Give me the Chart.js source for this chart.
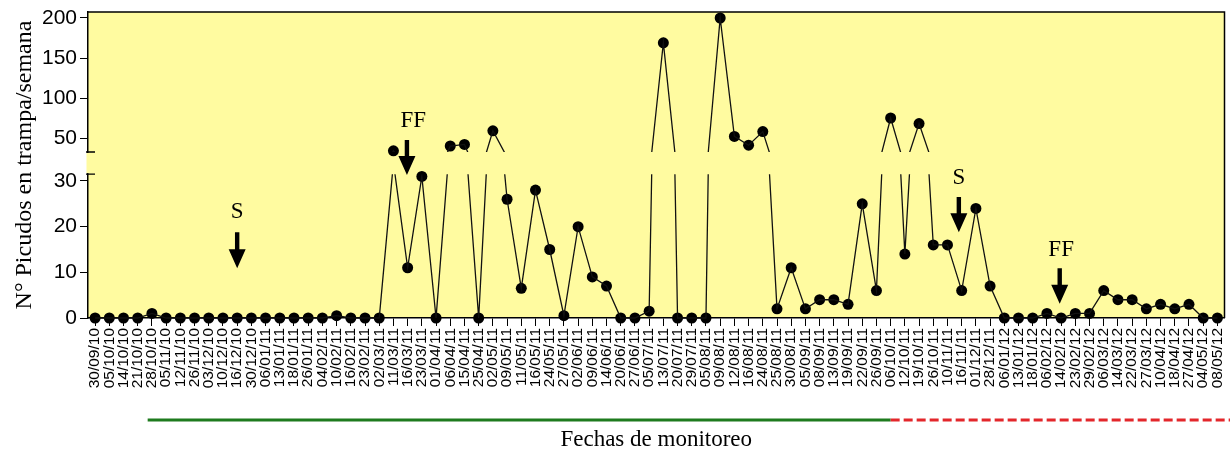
<!DOCTYPE html>
<html>
<head>
<meta charset="utf-8">
<script src="https://cdn.jsdelivr.net/npm/chart.js@4/dist/chart.umd.min.js"></script>
<style>
  html, body { margin: 0; padding: 0; background: #ffffff; }
  #wrap { width: 1230px; height: 455px; position: relative; }
</style>
</head>
<body>
<div id="wrap"><canvas id="c" width="1230" height="455"></canvas></div>
<script>
// ---------------- DATA ----------------
const categories = [
  '30/09/10','05/10/10','14/10/10','21/10/10','28/10/10','05/11/10','12/11/10','26/11/10','03/12/10','10/12/10',
  '16/12/10','30/12/10','06/01/11','13/01/11','18/01/11','26/01/11','04/02/11','10/02/11','16/02/11','23/02/11',
  '02/03/11','11/03/11','16/03/11','23/03/11','01/04/11','06/04/11','15/04/11','25/04/11','02/05/11','09/05/11',
  '11/05/11','16/05/11','24/05/11','27/05/11','02/06/11','09/06/11','14/06/11','20/06/11','27/06/11','05/07/11',
  '13/07/11','20/07/11','29/07/11','05/08/11','09/08/11','12/08/11','16/08/11','24/08/11','25/08/11','30/08/11',
  '05/09/11','08/09/11','13/09/11','19/09/11','22/09/11','26/09/11','06/10/11','12/10/11','19/10/11','26/10/11',
  '10/11/11','16/11/11','01/12/11','28/12/11','06/01/12','13/01/12','18/01/12','06/02/12','14/02/12','23/02/12',
  '29/02/12','06/03/12','14/03/12','22/03/12','27/03/12','10/04/12','18/04/12','27/04/12','04/05/12','08/05/12'
];
const picudos = [
  0, 0, 0, 0, 1, 0, 0, 0, 0, 0,
  0, 0, 0, 0, 0, 0, 0, 0.5, 0, 0,
  0, 34, 11, 31, 0, 40, 42, 0, 59, 26,
  6.5, 28, 15, 0.5, 20, 9, 7, 0, 0, 1.5,
  169, 0, 0, 0, 200, 52, 41, 58, 2, 11,
  2, 4, 4, 3, 25, 6, 75, 14, 68, 16,
  16, 6, 24, 7, 0, 0, 0, 1, 0, 1,
  1, 6, 4, 4, 2, 3, 2, 3, 0, 0
];
const lowerTicks = [0, 10, 20, 30];
const upperTicks = [50, 100, 150, 200];
const yTitle = 'N° Picudos en trampa/semana';
const xTitle = 'Fechas de monitoreo';

// annotation marks, positions in category index / lower-axis units
const notes = [
  { text: 'S',  textX: 10.0, textY: 23.2, arrowX: 10.0,  arrowTop: 18.8, arrowTip: 10.9 },
  { text: 'FF', textX: 22.4, textY: 43.2, arrowX: 21.95, arrowTop: 39.0, arrowTip: 31.3 },
  { text: 'S',  textX: 60.8, textY: 30.7, arrowX: 60.8,  arrowTop: 26.5, arrowTip: 18.8 },
  { text: 'FF', textX: 68.0, textY: 14.9, arrowX: 67.9,  arrowTop: 10.9, arrowTip: 3.1 }
];
// period bars under the axis
const periods = [
  { from: 3.7, to: 56, color: '#1e7b1e', dash: [] },
  { from: 56, to: 80.5, color: '#e3262b', dash: [9, 4] }
];

// ---------------- broken axis geometry ----------------
const LOWER_MIN = 0, LOWER_MAX = 67;
const UPPER_MIN = -175, UPPER_MAX = 207.5;
const LOWER_TOP = 31.5, UPPER_BOTTOM = 32.5;
function upperToLower(u) {
  return LOWER_MIN + (u - UPPER_MIN) / (UPPER_MAX - UPPER_MIN) * (LOWER_MAX - LOWER_MIN);
}
const yTickValues = lowerTicks.concat(upperTicks.map(upperToLower));
const yTickLabels = lowerTicks.concat(upperTicks).map(String);

const lowerPts = picudos.map(v => v <= LOWER_TOP ? v : null);
const upperPts = picudos.map(v => v >= UPPER_BOTTOM ? v : null);

const BG = '#fffba0';

const panelPlugin = {
  id: 'panels',
  beforeDraw(chart) {
    const a = chart.chartArea, ctx = chart.ctx;
    ctx.save();
    ctx.fillStyle = '#ffffff';
    ctx.fillRect(0, 0, chart.width, chart.height);
    ctx.fillStyle = BG;
    ctx.fillRect(a.left, a.top, a.right - a.left, a.bottom - a.top);
    ctx.restore();
  },
  beforeDatasetDraw(chart, args) {
    const ds = chart.data.datasets[args.index];
    if (!ds.panel) return;
    const a = chart.chartArea, ctx = chart.ctx;
    let top, bottom;
    if (ds.panel === 'lower') {
      top = chart.scales.y.getPixelForValue(LOWER_TOP);
      bottom = a.bottom + 2;
    } else {
      top = a.top - 2;
      bottom = chart.scales.y2.getPixelForValue(UPPER_BOTTOM);
    }
    ctx.save();
    ctx.beginPath();
    ctx.rect(a.left, top, a.right - a.left, bottom - top);
    ctx.clip();
  },
  afterDatasetDraw(chart, args) {
    const ds = chart.data.datasets[args.index];
    if (!ds.panel) return;
    chart.ctx.restore();
  },
  afterDraw(chart) {
    const a = chart.chartArea, ctx = chart.ctx;
    const xs = chart.scales.x, ys = chart.scales.y, ys2 = chart.scales.y2;
    ctx.save();
    ctx.strokeStyle = '#000';
    ctx.lineWidth = 1.5;
    ctx.beginPath();
    ctx.moveTo(a.left, a.top); ctx.lineTo(a.right, a.top); ctx.lineTo(a.right, a.bottom);
    ctx.stroke();
    // axis break
    const yb1 = ys2.getPixelForValue(UPPER_BOTTOM);
    const yb2 = ys.getPixelForValue(LOWER_TOP);
    ctx.fillStyle = BG;
    ctx.fillRect(a.left - 1.5, yb1 + 1, 3.5, yb2 - yb1 - 2);
    ctx.lineWidth = 1.3;
    ctx.beginPath();
    ctx.moveTo(a.left - 2, yb1); ctx.lineTo(a.left + 7, yb1);
    ctx.moveTo(a.left - 2, yb2); ctx.lineTo(a.left + 7, yb2);
    ctx.stroke();
    // annotations
    ctx.fillStyle = '#000';
    ctx.font = '23px "Liberation Serif", "Times New Roman", serif';
    ctx.textAlign = 'center';
    ctx.textBaseline = 'middle';
    notes.forEach(n => {
      ctx.fillText(n.text, xs.getPixelForValue(n.textX), ys.getPixelForValue(n.textY));
      const x = xs.getPixelForValue(n.arrowX);
      const yT = ys.getPixelForValue(n.arrowTop);
      const yP = ys.getPixelForValue(n.arrowTip);
      const headH = 19, headW = 8.5, shaftW = 2.2;
      ctx.beginPath();
      ctx.moveTo(x - shaftW, yT);
      ctx.lineTo(x + shaftW, yT);
      ctx.lineTo(x + shaftW, yP - headH);
      ctx.lineTo(x + headW, yP - headH);
      ctx.lineTo(x, yP);
      ctx.lineTo(x - headW, yP - headH);
      ctx.lineTo(x - shaftW, yP - headH);
      ctx.closePath();
      ctx.fill();
    });
    // period bars
    const yLine = a.bottom + 102;
    ctx.lineWidth = 3.2;
    periods.forEach(p => {
      ctx.strokeStyle = p.color;
      ctx.setLineDash(p.dash);
      ctx.beginPath();
      ctx.moveTo(xs.getPixelForValue(p.from), yLine);
      ctx.lineTo(Math.min(xs.getPixelForValue(p.to), chart.width), yLine);
      ctx.stroke();
    });
    ctx.restore();
  }
};

const lineStyle = {
  borderColor: '#111',
  borderWidth: 1.3,
  pointRadius: 0,
  tension: 0,
  fill: false,
  clip: false
};
const pointStyle = {
  showLine: false,
  pointRadius: 5.5,
  pointBackgroundColor: '#000',
  pointBorderColor: '#000',
  pointBorderWidth: 0,
  clip: false
};

new Chart(document.getElementById('c'), {
  type: 'line',
  data: {
    labels: categories,
    datasets: [
      Object.assign({ data: picudos, yAxisID: 'y', panel: 'lower' }, lineStyle),
      Object.assign({ data: picudos, yAxisID: 'y2', panel: 'upper' }, lineStyle),
      Object.assign({ data: lowerPts, yAxisID: 'y' }, pointStyle),
      Object.assign({ data: upperPts, yAxisID: 'y2' }, pointStyle)
    ]
  },
  plugins: [panelPlugin],
  options: {
    responsive: false,
    animation: false,
    events: [],
    layout: { padding: { top: 12, right: 5, left: 0, bottom: 0 } },
    plugins: { legend: { display: false }, tooltip: { enabled: false } },
    scales: {
      x: {
        type: 'category',
        offset: true,
        grid: { drawOnChartArea: false, drawTicks: true, tickLength: 8, color: '#000', lineWidth: 1 },
        border: { display: true, color: '#000', width: 1.5 },
        ticks: {
          autoSkip: false, minRotation: 90, maxRotation: 90, padding: 2,
          color: '#000',
          font: { family: '"Liberation Sans", Arial, sans-serif', size: 15.5 }
        },
        title: {
          display: true, text: xTitle, color: '#000',
          font: { family: '"Liberation Serif", "Times New Roman", serif', size: 23 },
          padding: { top: 0, bottom: 1 }
        },
        afterFit(scale) { scale.height = 137; scale.paddingLeft = 0; scale.paddingRight = 0; }
      },
      y: {
        position: 'left',
        min: LOWER_MIN, max: LOWER_MAX,
        grid: { drawOnChartArea: false, drawTicks: true, tickLength: 8, color: '#000', lineWidth: 1 },
        border: { display: true, color: '#000', width: 1.5 },
        afterBuildTicks(scale) { scale.ticks = yTickValues.map(v => ({ value: v })); },
        ticks: {
          autoSkip: false, padding: 3, color: '#000',
          font: { family: '"Liberation Sans", Arial, sans-serif', size: 21 },
          callback: (v, i) => yTickLabels[i]
        },
        title: {
          display: true, text: yTitle, color: '#000',
          font: { family: '"Liberation Serif", "Times New Roman", serif', size: 24 },
          padding: { top: 10, bottom: 0 }
        },
        afterFit(scale) { scale.width = 88; scale.paddingTop = 0; scale.paddingBottom = 0; }
      },
      y2: {
        display: false,
        position: 'left',
        min: UPPER_MIN, max: UPPER_MAX
      }
    }
  }
});
</script>
</body>
</html>
